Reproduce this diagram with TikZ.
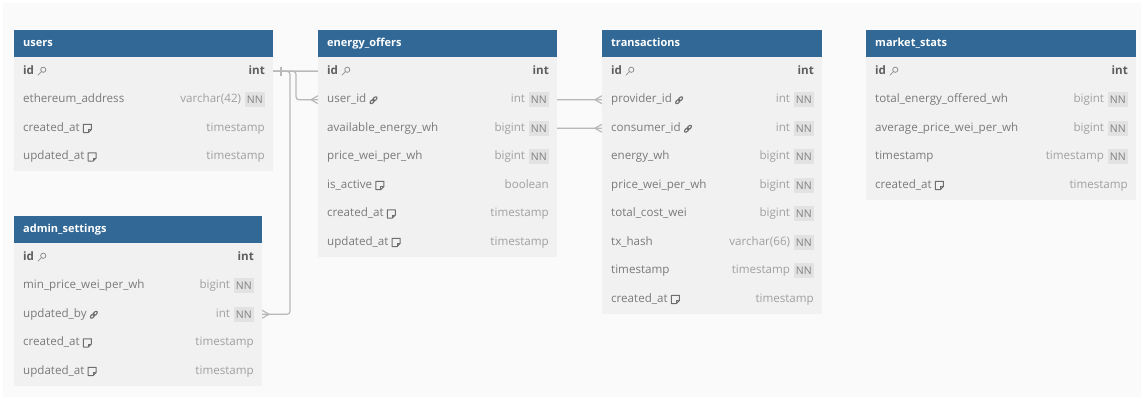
\documentclass[tikz,border=0pt]{standalone}
\usepackage{fontspec}
\setmainfont{Open Sans}
\usetikzlibrary{calc}
\definecolor{hdr}{HTML}{316896}
\definecolor{bodyc}{HTML}{F1F1F1}
\definecolor{namec}{HTML}{7A7A7A}
\definecolor{typec}{HTML}{A0A0A0}
\definecolor{idc}{HTML}{5E5E5E}
\definecolor{nnfill}{HTML}{E2E2E2}
\definecolor{nnc}{HTML}{808080}
\definecolor{linec}{HTML}{B8B8B8}
\definecolor{canvas}{HTML}{FAFAFA}
\definecolor{iconc}{HTML}{8E8E8E}
\definecolor{darkicon}{HTML}{6E6E6E}
\tikzset{
  x=1pt, y=-1pt,
  tbody/.style={fill=bodyc, draw=none, inner sep=0pt},
  thead/.style={fill=hdr, draw=none, inner sep=0pt},
  htitle/.style={text=white, font=\fontsize{11}{13}\selectfont\bfseries, inner sep=0pt, text height=8pt, text depth=2.5pt},
  fname/.style={text=namec, font=\fontsize{11.6}{13}\selectfont, inner sep=0pt, text height=8pt, text depth=2.5pt},
  ftype/.style={text=typec, font=\fontsize{11.6}{13}\selectfont, inner sep=0pt, text height=8pt, text depth=2.5pt},
  nnbox/.style={fill=nnfill, text=nnc, font=\fontsize{10.5}{12}\selectfont, inner xsep=2pt, inner ysep=0pt, minimum height=15pt, text height=7.5pt, text depth=0pt},
  conn/.style={draw=linec, line width=1.2pt},
  keyicon/.pic={\draw[iconc, line width=0.8pt] (6.5,-1.5) circle[radius=2.6]; \draw[iconc, line width=0.8pt, line cap=round] (4.7,0.4) -- (1.2,3.9);},
  linkicon/.pic={\draw[darkicon, line width=1.1pt, rotate around={45:(4.5,0.5)}] (2.6,0.5) ellipse [x radius=2.6, y radius=1.5] (6.4,0.5) ellipse [x radius=2.6, y radius=1.5];},
  noteicon/.pic={\draw[darkicon, line width=1pt, line join=round] (1,-4) -- (9,-4) -- (9,1.3) -- (6,4.3) -- (1,4.3) -- cycle; \draw[darkicon, line width=0.8pt] (9,1.3) -- (6,1.3) -- (6,4.3);}
}
\newcommand{\idtxt}[1]{{\bfseries\color{idc}#1}}
% #1 name, #2 left, #3 right, #4 top, #5 nrows, #6 title
\newcommand{\tbl}[6]{%
  \node[tbody, minimum width={(#3-#2)*1pt}, minimum height={(27+#5*28.5)*1pt}, anchor=north west] (#1) at (#2,#4) {};
  \node[thead, minimum width={(#3-#2)*1pt}, minimum height=27pt, anchor=north west] (#1h) at (#2,#4) {};
  \node[htitle, anchor=west] (#1tt) at (#2+9,#4+13.5) {#6};}
% #1 node, #2 left, #3 right, #4 top, #5 row, #6 text, #7 icon, #8 type, #9 nn
\newcommand{\fld}[9]{%
  \node[fname, anchor=west] (#1) at (#2+9, #4+41.25+28.5*#5) {#6};
  \if\relax\detokenize{#7}\relax\else\pic at ([xshift=2.5pt]#1.east) {#7icon};\fi
  \if\relax\detokenize{#9}\relax
    \node[ftype, anchor=east] (#1t) at (#3-8, #4+41.25+28.5*#5) {#8};
  \else
    \node[nnbox, anchor=east] (#1n) at (#3-8, #4+41.25+28.5*#5) {NN};
    \node[ftype, anchor=east] (#1t) at ([xshift=-3.5pt]#1n.west) {#8};
  \fi}
\newcommand{\crowL}[1]{\draw[conn] ($(#1)+(-7,0)$) -- ($(#1)+(0,-4)$) ($(#1)+(-7,0)$) -- ($(#1)+(0,4)$);}
\newcommand{\crowR}[1]{\draw[conn] ($(#1)+(7,0)$) -- ($(#1)+(0,-4)$) ($(#1)+(7,0)$) -- ($(#1)+(0,4)$);}
\begin{document}
\begin{tikzpicture}
\useasboundingbox (0,0) rectangle (1141,399);
\fill[white] (0,0) rectangle (1141,399);
\fill[canvas] (3,3) rectangle (1141,397);

% coordinates of row ends (named)
\coordinate (uidE) at (273,71.25);
\coordinate (eoUser) at (318,99.75);
\coordinate (adUpd) at (262,314.25);
\coordinate (trProv) at (602,99.75);
\coordinate (trCons) at (602,128.25);

% connectors (behind tables)
\draw[conn, rounded corners=3pt] (uidE) -- ++(164,0) |- (trProv);
\draw[conn, rounded corners=3pt] (uidE) -- ++(164,0) |- (trCons);
\draw[conn, rounded corners=3pt] (uidE) -- ++(23,0) |- (eoUser);
\draw[conn, rounded corners=3pt] (uidE) -- ++(17,0) |- (adUpd);
\draw[conn] ($(uidE)+(8,-4.5)$) -- ($(uidE)+(8,4.5)$);
\crowL{eoUser}
\crowL{trProv}
\crowL{trCons}
\crowR{adUpd}

% users
\tbl{users}{14}{273}{30}{4}{users}
\fld{u0}{14}{273}{30}{0}{\idtxt{id}}{key}{\idtxt{int}}{}
\fld{u1}{14}{273}{30}{1}{ethereum\_address}{}{varchar(42)}{1}
\fld{u2}{14}{273}{30}{2}{created\_at}{note}{timestamp}{}
\fld{u3}{14}{273}{30}{3}{updated\_at}{note}{timestamp}{}

% admin_settings
\tbl{admin}{14}{262}{216}{5}{admin\_settings}
\fld{a0}{14}{262}{216}{0}{\idtxt{id}}{key}{\idtxt{int}}{}
\fld{a1}{14}{262}{216}{1}{min\_price\_wei\_per\_wh}{}{bigint}{1}
\fld{a2}{14}{262}{216}{2}{updated\_by}{link}{int}{1}
\fld{a3}{14}{262}{216}{3}{created\_at}{note}{timestamp}{}
\fld{a4}{14}{262}{216}{4}{updated\_at}{note}{timestamp}{}

% energy_offers
\tbl{eo}{318}{557}{30}{7}{energy\_offers}
\fld{e0}{318}{557}{30}{0}{\idtxt{id}}{key}{\idtxt{int}}{}
\fld{e1}{318}{557}{30}{1}{user\_id}{link}{int}{1}
\fld{e2}{318}{557}{30}{2}{available\_energy\_wh}{}{bigint}{1}
\fld{e3}{318}{557}{30}{3}{price\_wei\_per\_wh}{}{bigint}{1}
\fld{e4}{318}{557}{30}{4}{is\_active}{note}{boolean}{}
\fld{e5}{318}{557}{30}{5}{created\_at}{note}{timestamp}{}
\fld{e6}{318}{557}{30}{6}{updated\_at}{note}{timestamp}{}

% transactions
\tbl{tr}{602}{822}{30}{9}{transactions}
\fld{t0}{602}{822}{30}{0}{\idtxt{id}}{key}{\idtxt{int}}{}
\fld{t1}{602}{822}{30}{1}{provider\_id}{link}{int}{1}
\fld{t2}{602}{822}{30}{2}{consumer\_id}{link}{int}{1}
\fld{t3}{602}{822}{30}{3}{energy\_wh}{}{bigint}{1}
\fld{t4}{602}{822}{30}{4}{price\_wei\_per\_wh}{}{bigint}{1}
\fld{t5}{602}{822}{30}{5}{total\_cost\_wei}{}{bigint}{1}
\fld{t6}{602}{822}{30}{6}{tx\_hash}{}{varchar(66)}{1}
\fld{t7}{602}{822}{30}{7}{timestamp}{}{timestamp}{1}
\fld{t8}{602}{822}{30}{8}{created\_at}{note}{timestamp}{}

% market_stats
\tbl{ms}{866}{1136}{30}{5}{market\_stats}
\fld{m0}{866}{1136}{30}{0}{\idtxt{id}}{key}{\idtxt{int}}{}
\fld{m1}{866}{1136}{30}{1}{total\_energy\_offered\_wh}{}{bigint}{1}
\fld{m2}{866}{1136}{30}{2}{average\_price\_wei\_per\_wh}{}{bigint}{1}
\fld{m3}{866}{1136}{30}{3}{timestamp}{}{timestamp}{1}
\fld{m4}{866}{1136}{30}{4}{created\_at}{note}{timestamp}{}
\end{tikzpicture}
\end{document}
